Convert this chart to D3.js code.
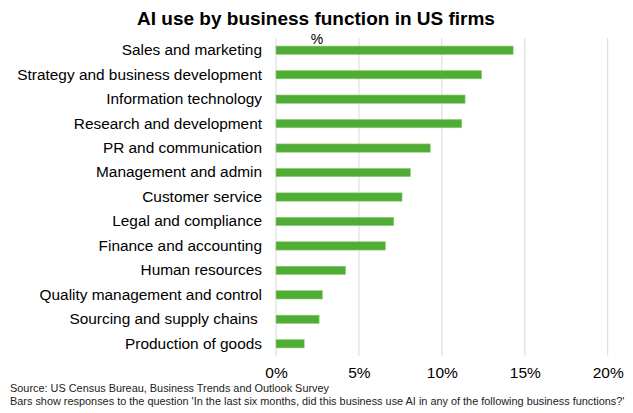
<!DOCTYPE html>
<html><head><meta charset="utf-8">
<script src="https://cdn.jsdelivr.net/npm/d3@7"></script>
<style>body{margin:0;background:#fff;}svg{display:block;font-family:"Liberation Sans",Arial,sans-serif;}</style>
</head><body>
<script>
const categories = ["Sales and marketing","Strategy and business development","Information technology","Research and development","PR and communication","Management and admin","Customer service","Legal and compliance","Finance and accounting","Human resources","Quality management and control","Sourcing and supply chains ","Production of goods"];
const values = [14.3,12.4,11.4,11.2,9.3,8.1,7.6,7.1,6.6,4.2,2.8,2.6,1.7];
const xTicks = [0,5,10,15,20];
const title = "AI use by business function in US firms";
const unitLabel = "%";
const notes = ["Source: US Census Bureau, Business Trends and Outlook Survey","Bars show responses to the question 'In the last six months, did this business use AI in any of the following business functions?'"];

const W=633,H=413;
const svg=d3.select("body").append("svg").attr("width",W).attr("height",H);
const x=d3.scaleLinear().domain([0,20]).range([276,607.7]);
const y=d3.scaleBand().domain(categories).range([38,356]).paddingInner(0.66).paddingOuter(0.33);

svg.append("text").attr("x",316).attr("y",25).attr("text-anchor","middle").attr("font-size",19).attr("font-weight","bold").attr("fill","#000").text(title);

svg.append("g").selectAll("line").data(xTicks).join("line")
 .attr("x1",d=>x(d)).attr("x2",d=>x(d)).attr("y1",38).attr("y2",356)
 .attr("stroke","#d9d9d9").attr("stroke-width",1);

svg.append("text").attr("x",317).attr("y",44).attr("text-anchor","middle").attr("font-size",14).attr("fill","#000").text(unitLabel);

svg.append("g").selectAll("rect").data(values).join("rect")
 .attr("x",x(0)).attr("y",(d,i)=>y(categories[i]))
 .attr("width",d=>x(d)-x(0)).attr("height",y.bandwidth())
 .attr("fill","#4fac34").attr("stroke","#8fd17a").attr("stroke-width",0.6);

const yAxis=svg.append("g").attr("transform","translate(276,0)").call(d3.axisLeft(y).tickSize(0).tickPadding(14));
yAxis.select(".domain").remove();
yAxis.selectAll("text").attr("font-size",15.4).attr("fill","#000").attr("font-family","Liberation Sans, Arial, sans-serif").style("white-space","pre");

const xAxis=svg.append("g").attr("transform","translate(0,356)").call(d3.axisBottom(x).tickValues(xTicks).tickFormat(d=>d+"%").tickSize(0).tickPadding(11));
xAxis.select(".domain").remove();
xAxis.selectAll("text").attr("font-size",15.5).attr("fill","#000").attr("font-family","Liberation Sans, Arial, sans-serif");

svg.append("g").selectAll("text").data(notes).join("text")
 .attr("x",10).attr("y",(d,i)=>392+i*13).attr("font-size",10.9).attr("fill","#222").text(d=>d);
</script>
</body></html>
